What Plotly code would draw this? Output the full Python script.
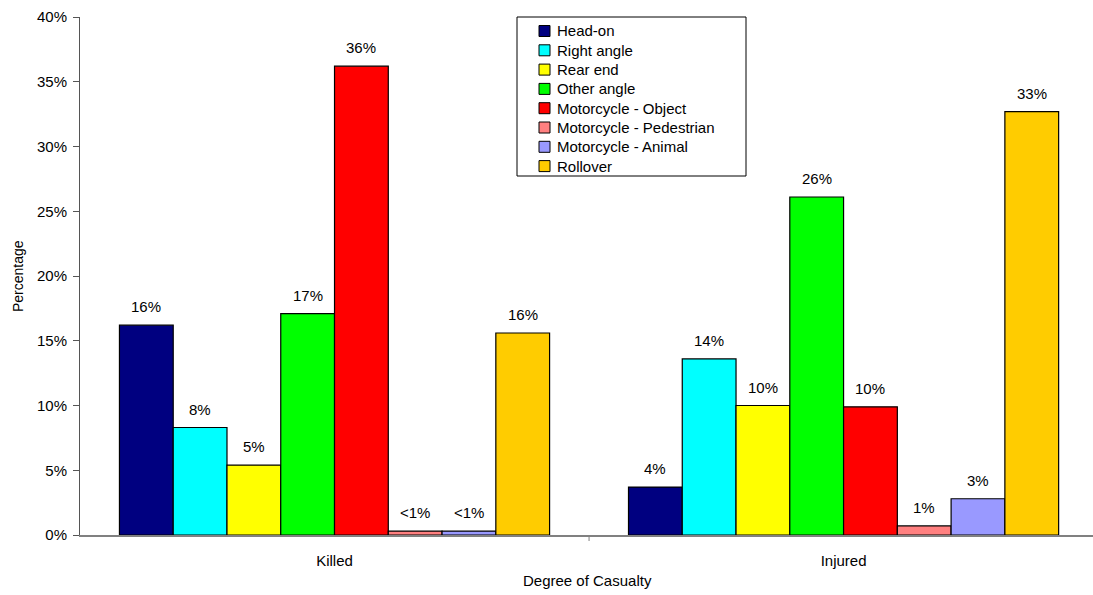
import plotly.graph_objects as go

# Casualty groups on the x axis
groups = ["Killed", "Injured"]

# Crash types (one bar series each) and their fill colours
crash_types = [
    "Head-on", "Right angle", "Rear end", "Other angle",
    "Motorcycle - Object", "Motorcycle - Pedestrian",
    "Motorcycle - Animal", "Rollover",
]
colors = ["#000080", "#00FFFF", "#FFFF00", "#00FF00",
          "#FF0000", "#FF8080", "#9999FF", "#FFCC00"]

# Percentage of casualties per crash type: [Killed, Injured]
head_on = [16.2, 3.7]
right_angle = [8.3, 13.6]
rear_end = [5.4, 10.0]
other_angle = [17.1, 26.1]
moto_object = [36.2, 9.9]
moto_pedestrian = [0.3, 0.7]
moto_animal = [0.3, 2.8]
rollover = [15.6, 32.7]

series = [head_on, right_angle, rear_end, other_angle,
          moto_object, moto_pedestrian, moto_animal, rollover]

y_ticks = [0, 5, 10, 15, 20, 25, 30, 35, 40]
y_tick_labels = [f"{t}%" for t in y_ticks]

FONT = "Arial, Liberation Sans, sans-serif"
FS = 15

# plot area in pixels (for placing the boxed key in paper coordinates)
W, H = 1093, 595
ML, MR, MT, MB = 80, 0, 17, 60
PW, PH = W - ML - MR, H - MT - MB


def px_x(px):
    return (px - ML) / PW


def px_y(py):
    return (H - MB - py) / PH


n = len(series)
bar_w = 0.845 / n  # each group fills ~84.5% of its category slot


def label(v):
    return "<1%" if v < 0.5 else f"{round(v)}%"


fig = go.Figure()
annotations = []
shapes = []
for i, (name, vals, col) in enumerate(zip(crash_types, series, colors)):
    xs = [g + (i - (n - 1) / 2) * bar_w for g in range(len(groups))]
    fig.add_trace(go.Bar(
        x=xs, y=vals, width=bar_w, name=name,
        marker=dict(color=col, line=dict(color="#000000", width=1.2)),
        hoverinfo="y+name", showlegend=False,
    ))
    for x, v in zip(xs, vals):
        annotations.append(dict(
            x=x, y=v, xref="x", yref="y", text=label(v), showarrow=False,
            yanchor="bottom", yshift=8, font=dict(family=FONT, size=FS, color="#000"),
        ))

# boxed key in the upper middle of the plot
shapes.append(dict(
    type="rect", xref="paper", yref="paper",
    x0=px_x(517), x1=px_x(746), y0=px_y(176), y1=px_y(17),
    line=dict(color="#000000", width=1), fillcolor="white", layer="above",
))
row0, row_h = 31, 19.3
for k, (name, col) in enumerate(zip(crash_types, colors)):
    cy = row0 + k * row_h
    shapes.append(dict(
        type="rect", xref="paper", yref="paper",
        x0=px_x(539), x1=px_x(550), y0=px_y(cy + 5.5), y1=px_y(cy - 5.5),
        line=dict(color="#000000", width=1), fillcolor=col, layer="above",
    ))
    annotations.append(dict(
        x=px_x(555), y=px_y(cy), xref="paper", yref="paper", text=name,
        showarrow=False, xanchor="left", yanchor="middle",
        font=dict(family=FONT, size=FS, color="#000"),
    ))

# axis titles
annotations.append(dict(
    x=px_x(18), y=0.5, xref="paper", yref="paper", text="Percentage",
    showarrow=False, textangle=-90, xanchor="center", yanchor="middle",
    font=dict(family=FONT, size=14, color="#000"),
))
annotations.append(dict(
    x=px_x(587), y=px_y(580), xref="paper", yref="paper",
    text="Degree of Casualty", showarrow=False, yanchor="middle",
    font=dict(family=FONT, size=FS, color="#000"),
))

# boundary tick between the two category slots
shapes.append(dict(type="line", xref="x", yref="paper", x0=0.5, x1=0.5,
                   y0=0, y1=px_y(H - MB + 6), line=dict(color="#808080", width=1)))

fig.update_layout(
    width=W, height=H,
    margin=dict(l=ML, r=MR, t=MT, b=MB),
    paper_bgcolor="white", plot_bgcolor="white",
    barmode="overlay",
    showlegend=False,
    annotations=annotations,
    shapes=shapes,
    font=dict(family=FONT, size=FS, color="#000"),
)

fig.update_xaxes(
    range=[-0.5, 1.49],
    tickmode="array", tickvals=list(range(len(groups))), ticktext=groups,
    ticks="", showgrid=False, zeroline=False,
    showline=True, linecolor="#808080", linewidth=2,
    tickfont=dict(family=FONT, size=FS, color="#000"),
    ticklabelstandoff=11,
)

fig.update_yaxes(
    range=[0, 40], tickmode="array", tickvals=y_ticks, ticktext=y_tick_labels,
    ticks="outside", ticklen=6, tickcolor="#555555",
    showgrid=False, zeroline=False,
    showline=True, linecolor="#555555", linewidth=1,
    tickfont=dict(family=FONT, size=FS, color="#000"),
    ticklabelstandoff=3,
)

fig.write_html("out.html")
